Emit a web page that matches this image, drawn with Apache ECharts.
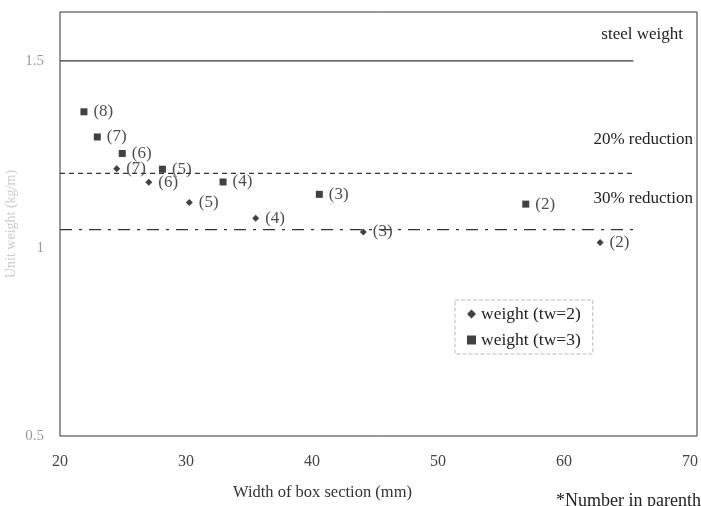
<!DOCTYPE html>
<html>
<head>
<meta charset="utf-8">
<script src="https://cdn.jsdelivr.net/npm/echarts@6/dist/echarts.min.js"></script>
<style>html,body{margin:0;padding:0;background:#fff}#c{width:701px;height:506px}</style>
</head>
<body>
<div id="c"></div>
<script>
// ---- data ----
var tw2X = [24.5, 27.05, 30.26, 35.53, 44.07, 62.86];
var tw2Y = [1.212, 1.176, 1.122, 1.080, 1.044, 1.016];
var tw2Labels = ['(7)', '(6)', '(5)', '(4)', '(3)', '(2)'];
var tw3X = [21.9, 22.96, 24.94, 28.13, 32.94, 40.58, 56.96];
var tw3Y = [1.364, 1.297, 1.253, 1.211, 1.177, 1.144, 1.118];
var tw3Labels = ['(8)', '(7)', '(6)', '(5)', '(4)', '(3)', '(2)'];
var refLineX = [20, 65.5];
var steelWeight = [1.5, 1.5];
var reduction20 = [1.2, 1.2];
var reduction30 = [1.05, 1.05];
var seriesNames = ['weight (tw=2)', 'weight (tw=3)'];
var refNames = ['steel weight', '20% reduction', '30% reduction'];
var xTitle = 'Width of box section (mm)';
var yTitle = 'Unit weight (kg/m)';
var footnote = '*Number in parentheses';

function pts(xs, ys, labels) {
  return xs.map(function (x, i) { return { value: [x, ys[i]], name: labels ? labels[i] : '' }; });
}
var serif = '"Liberation Serif", "DejaVu Serif", serif';
var chart = echarts.init(document.getElementById('c'), null, { renderer: 'canvas' });
var ptLabel = {
  show: true, position: 'right', distance: 6, formatter: '{b}',
  fontFamily: serif, fontSize: 17, color: '#222'
};
chart.setOption({
  backgroundColor: '#fff',
  animation: false,
  grid: { left: 60, right: 4, top: 12, bottom: 70, show: true, borderColor: '#333', borderWidth: 1,
    containLabel: false, outerBoundsMode: 'none' },
  xAxis: {
    type: 'value', min: 20, max: 70.55, interval: 10,
    axisLine: { show: false }, axisTick: { show: false }, splitLine: { show: false },
    axisLabel: { showMaxLabel: false, margin: 18, fontFamily: serif, fontSize: 16, color: '#444',
      formatter: function (v) { return v % 10 === 0 ? String(v) : ''; } }
  },
  yAxis: {
    type: 'value', min: 0.5, max: 1.63, interval: 0.5,
    name: yTitle, nameLocation: 'middle', nameGap: 42, nameRotate: 90, nameMoveOverlap: false,
    nameTextStyle: { fontFamily: serif, fontSize: 14, color: '#ccc' },
    axisLine: { show: false }, axisTick: { show: false }, splitLine: { show: false },
    axisLabel: { showMaxLabel: false, margin: 16, fontFamily: serif, fontSize: 15, color: '#999',
      formatter: function (v) { return (Math.abs(v * 2 - Math.round(v * 2)) < 1e-6) ? String(v) : ''; } }
  },
  legend: {
    data: seriesNames, orient: 'vertical', left: 455, top: 300,
    itemWidth: 9, itemHeight: 9, itemGap: 8,
    padding: [5, 12, 5, 12],
    borderColor: '#bbb', borderWidth: 1, borderType: 'dashed',
    textStyle: { fontFamily: serif, fontSize: 17.5, color: '#222' }
  },
  graphic: [
    { type: 'text', right: 18, top: 26, style: { text: refNames[0], font: '17px ' + serif, fill: '#222' } },
    { type: 'text', right: 8, top: 131, style: { text: refNames[1], font: '17px ' + serif, fill: '#222' } },
    { type: 'text', right: 8, top: 190, style: { text: refNames[2], font: '17px ' + serif, fill: '#222' } },
    { type: 'text', left: 233, top: 484, style: { text: xTitle, font: '16.5px ' + serif, fill: '#333' } },
    { type: 'text', left: 556, top: 492, style: { text: footnote, font: '18px ' + serif, fill: '#222', letterSpacing: 1 } }
  ],
  series: [
    { name: refNames[0], type: 'line', data: refLineX.map(function (x, i) { return [x, steelWeight[i]]; }),
      symbol: 'none', lineStyle: { color: '#333', width: 1.3 }, silent: true },
    { name: refNames[1], type: 'line', data: refLineX.map(function (x, i) { return [x, reduction20[i]]; }),
      symbol: 'none', lineStyle: { color: '#333', width: 1.2, type: [5, 4] }, silent: true },
    { name: refNames[2], type: 'line', data: refLineX.map(function (x, i) { return [x, reduction30[i]]; }),
      symbol: 'none', lineStyle: { color: '#333', width: 1.3, type: [12, 7, 3, 7] }, silent: true },
    { name: seriesNames[0], type: 'scatter', data: pts(tw2X, tw2Y, tw2Labels),
      symbol: 'diamond', symbolSize: 7, itemStyle: { color: '#111' }, label: ptLabel },
    { name: seriesNames[1], type: 'scatter', data: pts(tw3X, tw3Y, tw3Labels),
      symbol: 'rect', symbolSize: 7, itemStyle: { color: '#111' }, label: ptLabel }
  ]
});
</script>
</body>
</html>
